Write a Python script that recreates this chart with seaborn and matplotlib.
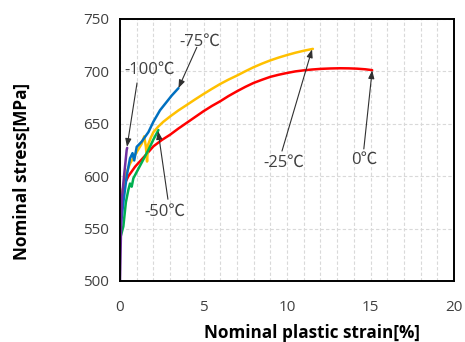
import matplotlib
matplotlib.use("Agg")
import matplotlib.pyplot as plt
import seaborn as sns
import pandas as pd
from matplotlib.ticker import MultipleLocator

# ---- data ----
temps = ["0℃", "-25℃", "-50℃", "-75℃", "-100℃"]

red_x = [0.0, 0.05, 0.2, 0.5, 0.9, 1.3, 1.7, 2.0, 2.5, 3.0, 3.5, 4.0, 4.5, 5.0, 5.5, 6.0, 6.5, 7.0, 7.5, 8.0,
         8.5, 9.0, 9.5, 10.0, 10.5, 11.0, 11.5, 12.0, 12.6, 13.2, 13.7, 14.2, 14.7, 15.1]
red_y = [555, 572, 590, 600, 609, 616, 623, 628.5, 634.5, 639.6, 645.5, 651, 656.5, 662, 667, 671.5, 676.5, 681, 685.2, 689,
         692, 694.8, 696.8, 698.5, 700, 701, 701.8, 702.4, 702.8, 703, 702.9, 702.6, 702, 701.2]

yellow_x = [0.0, 0.1, 0.3, 0.6, 1.0, 1.3, 1.45, 1.55, 1.62, 1.68, 1.85, 2.0, 2.3, 2.6, 3.0, 3.5, 4.0, 4.5, 5.0, 5.5,
            6.0, 6.5, 7.0, 7.5, 8.0, 8.5, 9.0, 9.5, 10.0, 10.5, 11.0, 11.55]
yellow_y = [560, 580, 600, 612, 623, 631, 638, 628, 614, 630, 637, 642, 647.5, 652, 657, 662.8, 668, 673.3, 678.4, 683.3,
            688, 692.2, 696, 700.1, 704, 707.4, 710.5, 713.2, 715.6, 717.8, 719.7, 721.5]

green_x = [0.0, 0.2, 0.35, 0.5, 0.6, 0.7, 0.8, 0.9, 1.1, 1.4, 1.7, 2.0, 2.3]
green_y = [540, 552, 575, 587, 593, 590, 598, 601, 607, 616, 625, 635, 644]

blue_x = [0.0, 0.1, 0.2, 0.4, 0.6, 0.75, 0.85, 1.0, 1.3, 1.7, 2.0, 2.4, 2.8, 3.1, 3.5]
blue_y = [545, 560, 575, 600, 617, 622, 615, 628, 633, 642, 652, 663, 671, 677, 684]

purple_x = [0.0, 0.05, 0.08, 0.12, 0.26, 0.4, 0.43]
purple_y = [500, 540, 565, 580, 603, 625, 627]

colors = ["#FF0000", "#FFC000", "#00B050", "#0070C0", "#7030A0"]

x_ticks = [0, 5, 10, 15, 20]
y_ticks = [500, 550, 600, 650, 700, 750]

series_x = [red_x, yellow_x, green_x, blue_x, purple_x]
series_y = [red_y, yellow_y, green_y, blue_y, purple_y]
rows = []
for t, xs, ys in zip(temps, series_x, series_y):
    for i, (a, b) in enumerate(zip(xs, ys)):
        rows.append({"temp": t, "order": i, "strain": a, "stress": b})
df = pd.DataFrame(rows)

# annotation: label, text pos, arrow start, arrow end (data coords)
annos = [
    ("-100℃", (1.8, 702), (1.02, 689), (0.42, 628)),
    ("-75℃", (4.8, 728), (4.6, 723), (3.5, 684)),
    ("-50℃", (2.7, 566), (2.87, 578), (2.28, 643)),
    ("-25℃", (9.8, 613), (9.7, 624), (11.5, 721)),
    ("0℃", (14.6, 616), (14.6, 626), (15.1, 701)),
]

sns.set_theme(style="white")
fam = ["Open Sans", "Noto Sans CJK JP", "DejaVu Sans"]
plt.rcParams["font.family"] = fam

fig = plt.figure(figsize=(4.65, 3.42), dpi=100)
ax = fig.add_axes([120 / 465, 1 - 281 / 342, (454 - 120) / 465, (281 - 19) / 342])

sns.lineplot(data=df, x="strain", y="stress", hue="temp", units="temp",
             palette=dict(zip(temps, colors)), hue_order=temps,
             sort=False, estimator=None, legend=False, linewidth=1.8, ax=ax)
for ln in ax.lines:
    ln.set_solid_joinstyle("round")
    ln.set_solid_capstyle("round")

ax.set_xlim(0, 20)
ax.set_ylim(500, 750)
ax.set_xticks(x_ticks)
ax.set_yticks(y_ticks)
ax.xaxis.set_minor_locator(MultipleLocator(1))
ax.grid(which="both", axis="x", color="#D9D9D9", linestyle=(0, (3, 2)), linewidth=0.8)
ax.grid(which="major", axis="y", color="#D9D9D9", linestyle=(0, (3, 2)), linewidth=0.8)
ax.set_axisbelow(True)

for s in ax.spines.values():
    s.set_color("black")
    s.set_linewidth(1.4)
    s.set_visible(True)

ax.tick_params(axis="both", which="major", direction="out", length=4, width=1.3,
               color="black", labelsize=11, labelcolor="#404040", pad=4)
ax.tick_params(axis="x", which="minor", length=0)
ax.tick_params(axis="x", which="major", pad=10)

ax.set_xlabel("Nominal plastic strain[%]", fontsize=12.3, fontweight="bold", color="black", va="center")
ax.set_ylabel("Nominal stress[MPa]", fontsize=12.3, fontweight="bold", color="black", va="center")
ax.xaxis.set_label_coords(0.575, -0.198)
ax.yaxis.set_label_coords(-0.293, 0.42)

for label, tpos, start, end in annos:
    ax.text(tpos[0], tpos[1], label, fontsize=12, color="#404040", ha="center", va="center", family=fam)
    ax.annotate("", xy=end, xytext=start,
                arrowprops=dict(arrowstyle="-|>,head_length=0.4,head_width=0.15",
                                color="#303030", lw=0.8, shrinkA=0, shrinkB=0))

fig.savefig("out.png", dpi=100)
